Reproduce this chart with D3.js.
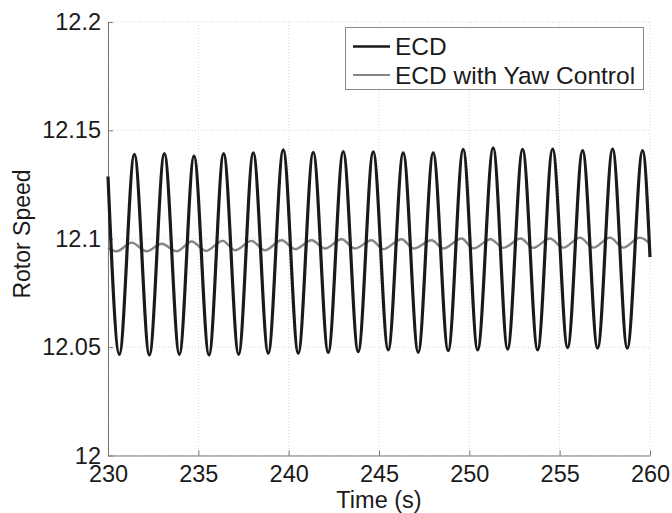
<!doctype html>
<html>
<head>
  <script src="https://d3js.org/d3.v7.min.js"></script>
  <style>
    body { margin: 0; background: #fff; }
    text { font-family: "Liberation Sans", Arial, sans-serif; fill: #1a1a1a; }
  </style>
</head>
<body>
<script>
  // data: turning points of each trace (time, rotor speed)
  var ecdTime = [230, 230.63, 231.46, 232.29, 233.12, 233.95, 234.76, 235.59, 236.40, 237.23, 238.04,
                 238.87, 239.70, 240.53, 241.36, 242.19, 243.02, 243.85, 244.68, 245.51, 246.34,
                 247.17, 248.00, 248.83, 249.66, 250.46, 251.32, 252.12, 252.95, 253.78, 254.61,
                 255.44, 256.27, 257.10, 257.93, 258.74, 259.59, 260];
  var ecdSpeed = [12.1287, 12.0467, 12.1389, 12.0464, 12.1393, 12.0467, 12.1381, 12.0464, 12.1393, 12.0467, 12.1396,
                  12.0472, 12.1410, 12.0472, 12.1399, 12.0476, 12.1402, 12.0479, 12.1401, 12.0487, 12.1396,
                  12.0476, 12.1396, 12.0484, 12.1412, 12.0487, 12.1419, 12.0491, 12.1412, 12.0487, 12.1414,
                  12.0498, 12.1407, 12.0495, 12.1414, 12.0495, 12.1407, 12.0915];

  var yawTime = [230, 230.48, 231.31, 232.14, 232.97, 233.80, 234.63, 235.42, 236.35, 237.03, 237.95,
                 238.69, 239.61, 240.35, 241.27, 242.01, 242.93, 243.67, 244.59, 245.24, 246.25,
                 246.90, 247.91, 248.56, 249.57, 250.22, 251.18, 251.88, 252.84, 253.54, 254.46,
                 255.20, 256.12, 256.86, 257.78, 258.52, 259.44, 260];
  var yawSpeed = [12.0959, 12.0942, 12.0982, 12.0942, 12.0977, 12.0942, 12.0987, 12.0944, 12.0990, 12.0947, 12.0990,
                  12.0947, 12.0993, 12.0952, 12.0993, 12.0955, 12.0998, 12.0955, 12.0993, 12.0952, 12.0998,
                  12.0955, 12.0993, 12.0955, 12.1001, 12.0955, 12.0998, 12.0958, 12.1001, 12.0958, 12.1001,
                  12.0959, 12.1005, 12.0959, 12.1005, 12.0959, 12.1005, 12.0977];

  var xTicks = [230, 235, 240, 245, 250, 255, 260];
  var yTicks = [12, 12.05, 12.1, 12.15, 12.2];
  var seriesNames = ["ECD", "ECD with Yaw Control"];
  var seriesColors = ["#1a1a1a", "#858585"];

  var width = 672, height = 513;
  // plot box (names chosen so they don't clash with window.top)
  var plotL = 108, plotR = 650, plotT = 22, plotB = 455.5;

  var x = d3.scaleLinear().domain([230, 260]).range([plotL, plotR]);
  var y = d3.scaleLinear().domain([12, 12.2]).range([plotB, plotT]);

  var svg = d3.select("body").append("svg")
              .attr("width", width)
              .attr("height", height);

  // dotted grid
  svg.append("g").selectAll("line").data(xTicks).enter().append("line")
     .attr("x1", function(d) { return x(d); }).attr("x2", function(d) { return x(d); })
     .attr("y1", plotT).attr("y2", plotB)
     .attr("stroke", "#d8d8d8").attr("stroke-dasharray", "1,2");
  svg.append("g").selectAll("line").data(yTicks).enter().append("line")
     .attr("x1", plotL).attr("x2", plotR)
     .attr("y1", function(d) { return y(d); }).attr("y2", function(d) { return y(d); })
     .attr("stroke", "#d8d8d8").attr("stroke-dasharray", "1,2");

  // axes, ticks point inwards
  var xAxis = d3.axisBottom(x).tickValues(xTicks).tickSizeInner(-5).tickSizeOuter(0)
                .tickFormat(d3.format("d")).tickPadding(10);
  var yAxis = d3.axisLeft(y).tickValues(yTicks).tickSizeInner(-5).tickSizeOuter(0)
                .tickFormat(function(d) { return String(+d.toFixed(2)); }).tickPadding(7);

  var gx = svg.append("g").attr("transform", "translate(0," + plotB + ")").call(xAxis);
  var gy = svg.append("g").attr("transform", "translate(" + plotL + ",0)").call(yAxis);
  [gx, gy].forEach(function(g) {
    g.select(".domain").attr("stroke", "#777");
    g.selectAll(".tick line").attr("stroke", "#777");
    g.selectAll(".tick text").attr("font-size", "23.5px")
     .attr("font-family", "Liberation Sans, Arial, sans-serif").attr("fill", "#1a1a1a");
  });

  // traces
  var line = d3.line()
               .x(function(d) { return x(d[0]); })
               .y(function(d) { return y(d[1]); })
               .curve(d3.curveMonotoneX);

  svg.append("path")
     .datum(d3.zip(yawTime, yawSpeed))
     .attr("d", line)
     .attr("fill", "none").attr("stroke", seriesColors[1]).attr("stroke-width", 2.4);

  svg.append("path")
     .datum(d3.zip(ecdTime, ecdSpeed))
     .attr("d", line)
     .attr("fill", "none").attr("stroke", seriesColors[0]).attr("stroke-width", 3.2);

  // axis titles
  svg.append("text")
     .attr("x", (plotL + plotR) / 2).attr("y", 508)
     .attr("text-anchor", "middle").attr("font-size", "23.5px")
     .text("Time (s)");
  svg.append("text")
     .attr("transform", "translate(30,234) rotate(-90)")
     .attr("text-anchor", "middle").attr("font-size", "23px")
     .text("Rotor Speed");

  // legend
  var legend = svg.append("g");
  legend.append("rect")
        .attr("x", 345.5).attr("y", 27.5).attr("width", 298).attr("height", 62)
        .attr("fill", "#fff").attr("stroke", "#888");
  var rows = legend.selectAll("g.row").data(seriesNames).enter().append("g")
                   .attr("transform", function(d, i) { return "translate(0," + (46.5 + i * 28.5) + ")"; });
  rows.append("line")
      .attr("x1", 353).attr("x2", 390).attr("y1", 0).attr("y2", 0)
      .attr("stroke", function(d, i) { return seriesColors[i]; })
      .attr("stroke-width", function(d, i) { return i ? 2 : 2.5; });
  rows.append("text")
      .attr("x", 395).attr("dy", "0.36em").attr("font-size", "24.5px")
      .text(function(d) { return d; });
</script>
</body>
</html>
